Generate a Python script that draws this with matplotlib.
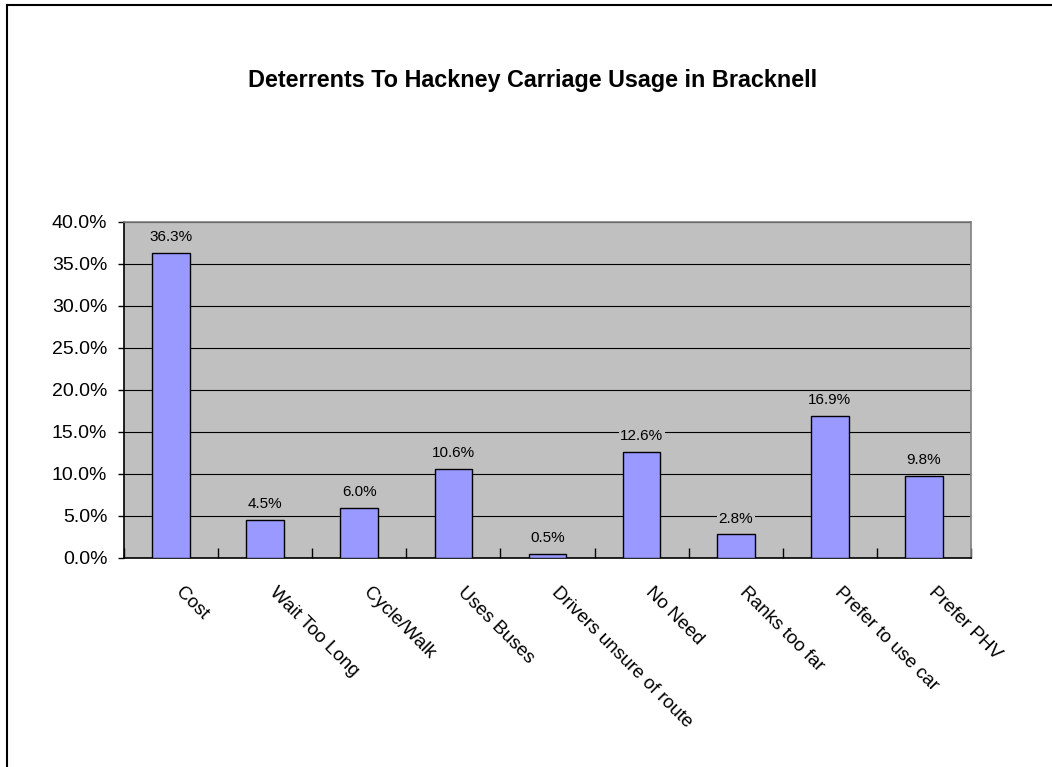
import matplotlib
matplotlib.use("Agg")
import matplotlib.pyplot as plt
from matplotlib.lines import Line2D
from matplotlib.ticker import MultipleLocator, FuncFormatter, FixedLocator, NullFormatter
import numpy as np

plt.rcParams['font.family'] = ['Liberation Sans', 'DejaVu Sans']

categories = ["Cost", "Wait Too Long", "Cycle/Walk", "Uses Buses",
              "Drivers unsure of route", "No Need", "Ranks too far",
              "Prefer to use car", "Prefer PHV"]
shares = [36.3, 4.5, 6.0, 10.6, 0.5, 12.6, 2.8, 16.9, 9.8]
title = "Deterrents To Hackney Carriage Usage in Bracknell"

W, H = 1052, 767
fig = plt.figure(figsize=(W / 100, H / 100), dpi=100)
fig.patch.set_facecolor("white")

# outer chart frame (top and left edges)
fig.add_artist(Line2D([7 / W, 1.0], [1 - 5 / H, 1 - 5 / H], color="black", lw=1.5,
                      transform=fig.transFigure))
fig.add_artist(Line2D([7 / W, 7 / W], [0.0, 1 - 5 / H], color="black", lw=1.5,
                      transform=fig.transFigure))

left, right, top, bottom = 124, 971, 222, 558
ax = fig.add_axes([left / W, 1 - bottom / H, (right - left) / W, (bottom - top) / H])
plot_bg = "#C0C0C0"
ax.set_facecolor(plot_bg)

x = np.arange(len(categories))
ax.bar(x, shares, width=0.4, color="#9999FF", edgecolor="black", linewidth=1.0, zorder=3)

ax.set_xlim(-0.5, len(categories) - 0.5)
ax.set_ylim(0, 40)
ax.yaxis.set_major_locator(MultipleLocator(5))
ax.yaxis.set_major_formatter(FuncFormatter(lambda v, p: f"{v:.1f}%"))
ax.yaxis.grid(True, color="black", linewidth=0.8, zorder=1)
ax.set_axisbelow(True)
ax.tick_params(axis="y", direction="out", length=4.5, width=1, labelsize=14, pad=7.5)

# category boundary ticks on the x axis, pointing up into the plot
ax.xaxis.set_major_locator(FixedLocator(np.arange(-0.5, len(categories), 1.0)))
ax.xaxis.set_major_formatter(NullFormatter())
ax.tick_params(axis="x", direction="in", length=7, width=1)

for i, lab in enumerate(categories):
    ax.annotate(lab, xy=(i, 0), xycoords=("data", "data"),
                xytext=(5, -23), textcoords="offset points",
                rotation=-45, rotation_mode="anchor", ha="left", va="center",
                fontsize=13.6)

for i, v in enumerate(shares):
    ax.annotate(f"{v:.1f}%", xy=(i, v), xytext=(0, 11.5), textcoords="offset points",
                ha="center", va="center", fontsize=11, zorder=4,
                bbox=dict(boxstyle="square,pad=0.1", fc=plot_bg, ec="none"))

for s in ("left", "bottom"):
    ax.spines[s].set_color("black")
    ax.spines[s].set_linewidth(1.2)
for s in ("top", "right"):
    ax.spines[s].set_color("#808080")
    ax.spines[s].set_linewidth(1.2)

fig.text(533 / W, 1 - 80 / H, title, ha="center", va="center",
         fontsize=16.8, fontweight="bold")

fig.savefig("out.png", dpi=100)
